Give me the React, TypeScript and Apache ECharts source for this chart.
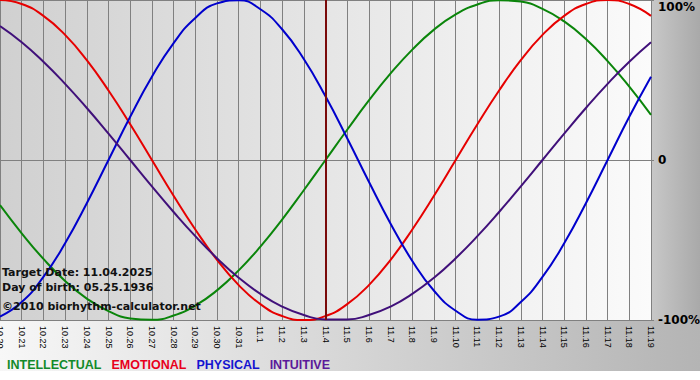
import React, { useEffect, useRef } from "react";
import * as echarts from "echarts";

const categories = [
  "10.20", "10.21", "10.22", "10.23", "10.24", "10.25", "10.26", "10.27", "10.28", "10.29", "10.30", "10.31",
  "11.1", "11.2", "11.3", "11.4", "11.5", "11.6", "11.7", "11.8", "11.9", "11.10", "11.11", "11.12",
  "11.13", "11.14", "11.15", "11.16", "11.17", "11.18", "11.19",
];

const intellectual = [
  -28.2, -45.8, -61.8, -75.6, -86.6, -94.5, -99.0, -99.9, -97.2, -91.0, -81.5, -69.0, -54.1, -37.2, -18.9, 0,
  18.9, 37.2, 54.1, 69.0, 81.5, 91.0, 97.2, 99.9, 99.0, 94.5, 86.6, 75.6, 61.8, 45.8, 28.2,
];
const emotional = [
  100, 97.5, 90.1, 78.2, 62.4, 43.4, 22.3, 0, -22.3, -43.4, -62.4, -78.2, -90.1, -97.5, -100, -97.5,
  -90.1, -78.2, -62.4, -43.4, -22.3, 0, 22.3, 43.4, 62.4, 78.2, 90.1, 97.5, 100, 97.5, 90.1,
];
const physical = [
  -97.9, -88.8, -73.1, -52.0, -27.0, 0, 27.0, 52.0, 73.1, 88.8, 97.9, 99.8, 94.2, 81.7, 63.1, 39.8,
  13.6, -13.6, -39.8, -63.1, -81.7, -94.2, -99.8, -97.9, -88.8, -73.1, -52.0, -27.0, 0, 27.0, 52.0,
];
const intuitive = [
  83.7, 73.6, 61.4, 47.6, 32.5, 16.5, 0, -16.5, -32.5, -47.6, -61.4, -73.6, -83.7, -91.6, -96.9, -99.7,
  -99.7, -96.9, -91.6, -83.7, -73.6, -61.4, -47.6, -32.5, -16.5, 0, 16.5, 32.5, 47.6, 61.4, 73.6,
];

const seriesNames = ["INTELLECTUAL", "EMOTIONAL", "PHYSICAL", "INTUITIVE"];
const lineColors = ["#0a850a", "#e60000", "#0000cc", "#40107a"];
const legendColors = ["#138a2a", "#e8001c", "#1414d0", "#5a1a9a"];
const targetDate = "11.4";
const infoLines = ["Target Date: 11.04.2025", "Day of birth: 05.25.1936", "\u00a92010 biorhythm-calculator.net"];

export default function App() {
  const ref = useRef<HTMLDivElement>(null);
  useEffect(() => {
    const chart = echarts.init(ref.current!, null, { renderer: "svg" });
    const dataSets = [intellectual, emotional, physical, intuitive];
    const grad = (a: string, b: string) =>
      new echarts.graphic.LinearGradient(0, 0, 1, 0, [
        { offset: 0, color: a },
        { offset: 1, color: b },
      ]);
    const option: any = {
      animation: false,
      backgroundColor: "#ffffff",
      grid: { left: 0, right: 49, top: 0, bottom: 60, outerBoundsMode: "none" },
      legend: {
        left: -3,
        top: 353,
        icon: "none",
        itemWidth: 0,
        itemHeight: 10,
        itemGap: 5,
        selectedMode: false,
        textStyle: { fontSize: 12.5, fontWeight: "bold", fontFamily: "Liberation Sans" },
        data: seriesNames.map((n, i) => ({ name: n, textStyle: { color: legendColors[i] } })),
      },
      xAxis: {
        type: "category",
        data: categories,
        boundaryGap: false,
        axisLine: { show: true, lineStyle: { color: "#808080" } },
        axisTick: { show: true, interval: 0, length: 4, lineStyle: { color: "#808080" } },
        axisLabel: {
          interval: 0,
          rotate: -90,
          fontSize: 9,
          fontFamily: "Liberation Sans",
          color: "#000",
          margin: 6,
        },
        splitLine: { show: true, interval: 0, lineStyle: { color: "#808080", width: 1 } },
      },
      yAxis: {
        type: "value",
        position: "right",
        min: -100,
        max: 100,
        interval: 100,
        axisLine: { show: false },
        axisTick: { show: true, length: 3, lineStyle: { color: "#808080" } },
        axisLabel: {
          margin: 7,
          fontSize: 12,
          fontWeight: "bold",
          fontFamily: "DejaVu Sans",
          color: "#000",
          formatter: (v: number) => (v === 100 ? "{t|100%}" : v === 0 ? "0" : v + "%"),
          rich: {
            t: { fontSize: 12, fontWeight: "bold", fontFamily: "DejaVu Sans", color: "#000", padding: [14, 0, 0, 0] },
          },
        },
        splitLine: { show: true, lineStyle: { color: "#808080", width: 1 } },
      },
      series: seriesNames.map((n, i) => ({
        name: n,
        type: "line",
        data: dataSets[i],
        smooth: 0.5,
        symbol: "none",
        showSymbol: false,
        clip: false,
        color: lineColors[i],
        lineStyle: { color: lineColors[i], width: 2 },
        markLine:
          i === 0
            ? {
                silent: true,
                symbol: ["none", "none"],
                label: { show: false },
                lineStyle: { color: "#7a0a0a", width: 2, type: "solid" },
                data: [{ xAxis: targetDate }],
              }
            : undefined,
      })),
      graphic: [
        { type: "rect", silent: true, z: -10, shape: { x: 0, y: 0, width: 651, height: 320 }, style: { fill: grad("#d0d0d0", "#fbfbfb") } },
        { type: "rect", silent: true, z: -10, shape: { x: 651, y: 0, width: 49, height: 320 }, style: { fill: grad("#c8c8c8", "#a9a9a9") } },
        { type: "rect", silent: true, z: -10, shape: { x: 0, y: 320, width: 700, height: 51 }, style: { fill: grad("#f7f7f7", "#b4b4b4") } },
        ...infoLines.map((t, i) => ({
          type: "text",
          silent: true,
          z: 100,
          x: 2,
          y: [272.5, 287.5, 306.5][i],
          style: {
            text: t,
            fontSize: 11,
            fontWeight: "bold",
            fontFamily: "DejaVu Sans",
            fill: "#111",
            verticalAlign: "middle",
            align: "left",
          },
        })),
      ],
    };
    chart.setOption(option);
    return () => chart.dispose();
  }, []);
  return <div ref={ref} style={{ position: "fixed", left: 0, top: 0, width: 700, height: 380 }} />;
}
